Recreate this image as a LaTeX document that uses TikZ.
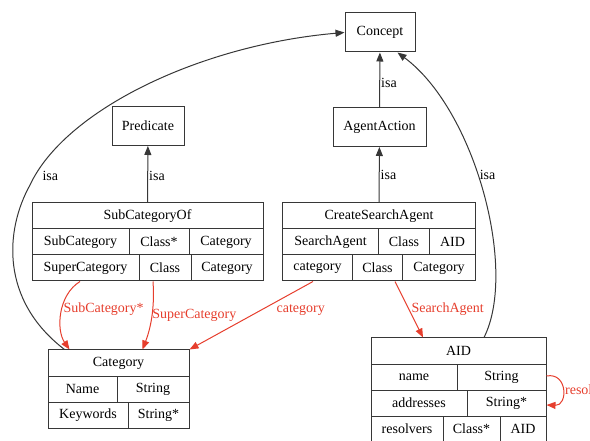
\documentclass[tikz,border=0pt]{standalone}
\usepackage{fontspec}
\setmainfont{Liberation Serif}
\usetikzlibrary{arrows.meta}

\definecolor{relred}{RGB}{230,62,45}
\definecolor{boxgray}{RGB}{55,55,55}

\begin{document}
\begin{tikzpicture}[x=1pt,y=-1pt,line width=1pt,font=\fontsize{14}{16}\selectfont]
        \useasboundingbox (0,0) rectangle (590,441);

        % ontology concepts
        \begin{scope}[every node/.style={draw=boxgray, rectangle, inner sep=0pt, minimum height=39pt}]
          \node[minimum width=70pt] (concept) at (380,32.5) {Concept};
          \node[minimum width=72pt] (pred)  at (148,126) {Predicate};
          \node[minimum width=93pt] (agact) at (379.5,127) {AgentAction};
        \end{scope}

        % record tables
        \begin{scope}[every node/.style={draw=boxgray, rectangle, inner sep=0pt, minimum height=26pt}]
          \node[minimum width=231pt] (sco)  at (147.5,216) {SubCategoryOf};
          \node[minimum width=97pt]  (sc11) at (80.5,242)  {SubCategory};
          \node[minimum width=60pt]  (sc12) at (159,242)   {Class*};
          \node[minimum width=74pt]  (sc13) at (226,242)   {Category};
          \node[minimum width=107pt] (sc21) at (85.5,268)  {SuperCategory};
          \node[minimum width=52pt]  (sc22) at (165,268)   {Class};
          \node[minimum width=72pt]  (sc23) at (227,268)   {Category};

          \node[minimum width=193pt] (csa)  at (379,216)   {CreateSearchAgent};
          \node[minimum width=96pt]  (cs11) at (330.5,242) {SearchAgent};
          \node[minimum width=51pt]  (cs12) at (404,242)   {Class};
          \node[minimum width=46pt]  (cs13) at (452.5,242) {AID};
          \node[minimum width=70pt]  (cs21) at (317.5,268) {category};
          \node[minimum width=50pt]  (cs22) at (377.5,268) {Class};
          \node[minimum width=73pt]  (cs23) at (439,268)   {Category};

          \node[minimum width=141pt] (cath) at (118.5,363) {Category};
          \node[minimum width=69pt]  (ca11) at (82.5,389)  {Name};
          \node[minimum width=72pt]  (ca12) at (153,389)   {String};
          \node[minimum width=80pt]  (ca21) at (88,415)    {Keywords};
          \node[minimum width=61pt]  (ca22) at (158.5,415) {String*};

          \node[minimum width=175pt] (aidh) at (458.5,351) {AID};
          \node[minimum width=86pt]  (ai11) at (414,377)   {name};
          \node[minimum width=89pt]  (ai12) at (501.5,377) {String};
          \node[minimum width=96pt]  (ai21) at (419,403)   {addresses};
          \node[minimum width=79pt]  (ai22) at (506.5,403) {String*};
          \node[minimum width=72pt]  (ai31) at (407,429)   {resolvers};
          \node[minimum width=57pt]  (ai32) at (471.5,429) {Class*};
          \node[minimum width=46pt]  (ai33) at (523,429)   {AID};
        \end{scope}

        % isa links
        \begin{scope}[every node/.style={inner sep=0pt, anchor=west}]
          \begin{scope}[every edge/.style={draw=boxgray, -{Triangle[length=9pt,width=7pt]}}]
            \path (agact) edge node[pos=0.45, xshift=1pt] {isa} (concept);
            \path (sco)   edge node[pos=0.47, xshift=1pt] {isa} (pred);
            \path (csa)   edge node[pos=0.5, xshift=1pt] {isa} (agact);
          \end{scope}
          \draw[draw=boxgray, -{Triangle[length=9pt,width=7pt]}]
            ([xshift=17pt]cath.north west) .. controls (0,300) and (5,230) .. (30,185)
            node[xshift=12pt, yshift=9pt] {isa}
            .. controls (65,110) and (200,45) .. (concept.west);
          \draw[draw=boxgray, -{Triangle[length=9pt,width=7pt]}]
            ([xshift=25.5pt]aidh.north) .. controls (518,270) and (475,110)
            .. node[pos=0.55, xshift=2pt] {isa} ([xshift=-18pt]concept.south east);
        \end{scope}

        % slot links
        \begin{scope}[every node/.style={inner sep=0pt, anchor=west, text=relred}]
          \begin{scope}[every edge/.style={draw=relred, -{Triangle[length=9pt,width=7pt]}}]
            \path ([xshift=-4.5pt]cs21.south) edge node[pos=0.42, xshift=15pt] {category} (cath.north east);
            \path ([xshift=17.5pt]cs22.south) edge node[pos=0.5, xshift=2pt] {SearchAgent} ([xshift=-35.5pt]aidh.north);
          \end{scope}
          \draw[draw=relred, -{Triangle[length=9pt,width=7pt]}]
            ([xshift=-5.5pt]sc21.south) .. controls (58,295) and (56,330)
            .. node[pos=0.45, xshift=1pt] {SubCategory*} ([xshift=22pt]cath.north west);
          \draw[draw=relred, -{Triangle[length=9pt,width=7pt]}]
            ([xshift=-12pt]sc22.south) .. controls (155,310) and (150,330)
            .. node[pos=0.45, xshift=0pt] {SuperCategory} ([xshift=95pt]cath.north west);
          \draw[draw=relred, -{Triangle[length=9pt,width=7pt]}]
            ([yshift=1pt]ai12.east) .. controls (568,372) and (568,406)
            .. node[pos=0.5, xshift=2pt] {resolvers} ([yshift=-2pt]ai22.east);
        \end{scope}

      \end{tikzpicture}
\end{document}
